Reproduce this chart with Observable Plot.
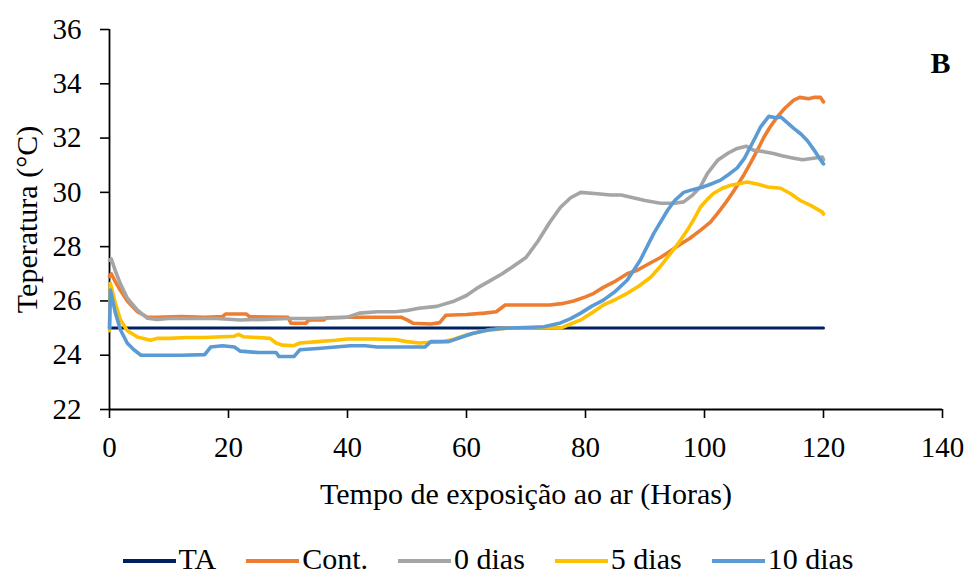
<!DOCTYPE html>
<html>
<head>
<meta charset="utf-8">
<script src="https://cdn.jsdelivr.net/npm/d3@7"></script>
<script src="https://cdn.jsdelivr.net/npm/@observablehq/plot@0.6"></script>
<style>
  body { margin: 0; background: #fff; font-family: "Liberation Serif", "Times New Roman", serif; }
  svg text { font-family: "Liberation Serif", "Times New Roman", serif !important; font-variant: normal !important; }
  #legend { display: flex; justify-content: center; align-items: center; height: 28px; line-height: 28px; margin-top: 5px; padding-left: 10px; font-size: 30px; color: #000; font-family: "Liberation Serif", "Times New Roman", serif; }
  .item { display: flex; align-items: center; margin: 0 15px; }
  .sw { width: 53px; height: 3.5px; margin-right: 3px; position: relative; top: 2px; }
</style>
</head>
<body>
<div id="chart"></div>
<div id="legend"></div>
<script>
// Series: [hour, temperature °C]
const seriesNames = ["TA", "Cont.", "0 dias", "5 dias", "10 dias"];
const seriesColors = ["#002060", "#ED7D31", "#A5A5A5", "#FFC000", "#5B9BD5"];
const xTicks = [0, 20, 40, 60, 80, 100, 120, 140];
const yTicks = [22, 24, 26, 28, 30, 32, 34, 36];

const ta = [[0, 25], [120, 25]];

const cont = [[0,26.9],[0.3,27.0],[1,26.7],[1.8,26.4],[3,26.0],[4.7,25.6],[6.4,25.4],[8,25.4],[12,25.42],[16,25.4],[19,25.42],[19.5,25.52],[23,25.52],[23.5,25.42],[30,25.4],[30.5,25.18],[33,25.18],[33.5,25.3],[36,25.3],[36.5,25.38],[40,25.4],[45,25.4],[49,25.4],[50,25.3],[51,25.18],[54,25.15],[55.5,25.2],[56.5,25.47],[60,25.5],[63,25.55],[65,25.6],[66.5,25.85],[70,25.85],[74,25.85],[76,25.9],[78,26.0],[80,26.15],[81.4,26.28],[83,26.5],[84.8,26.7],[87,27.0],[88.7,27.13],[90.5,27.35],[92.6,27.6],[94,27.8],[96,28.1],[97.5,28.3],[99.3,28.6],[101,28.9],[102.2,29.23],[103.5,29.6],[105,30.08],[106.5,30.6],[107.7,31.07],[109,31.6],[110,32.04],[111,32.4],[112.3,32.8],[113.5,33.1],[115,33.4],[116,33.5],[117.5,33.45],[118.5,33.5],[119.5,33.5],[120,33.33]];

const dias0 = [[0,27.5],[0.3,27.55],[1,27.1],[1.8,26.65],[3,26.1],[4.7,25.66],[6.4,25.36],[8,25.32],[10,25.35],[14,25.35],[18,25.35],[22,25.3],[26,25.32],[30,25.35],[34,25.35],[38,25.38],[40,25.4],[42,25.55],[45,25.6],[48,25.6],[50,25.65],[52,25.73],[55,25.8],[58,26.0],[60,26.2],[62,26.5],[64,26.75],[66,27.0],[68,27.3],[70,27.6],[72,28.2],[74,28.9],[75.8,29.45],[77.5,29.8],[79.2,30.0],[82,29.95],[84.2,29.9],[86,29.9],[88,29.8],[90,29.7],[92.6,29.6],[95,29.6],[96.5,29.65],[98,29.9],[99.3,30.2],[100.5,30.7],[102.2,31.18],[104,31.45],[105.5,31.62],[107,31.7],[108.3,31.55],[110,31.5],[111.6,31.43],[113,31.35],[115,31.26],[116.5,31.2],[118,31.25],[119.8,31.3],[120,31.2]];

const dias5 = [[0,24.9],[0.15,26.65],[1,25.9],[1.85,25.3],[3,24.9],[4.7,24.67],[6.9,24.55],[8,24.62],[10,24.62],[13,24.65],[16,24.65],[19,24.68],[21,24.7],[21.7,24.77],[22.5,24.68],[25,24.65],[27,24.62],[28,24.45],[29,24.37],[31,24.35],[32,24.45],[35,24.5],[38,24.55],[40,24.6],[44,24.6],[48,24.58],[50,24.5],[52,24.45],[54,24.48],[56,24.5],[58,24.6],[60,24.75],[61,24.8],[63,24.9],[65,24.95],[67,25.0],[70,25.0],[73,25.02],[75.8,25.0],[77.5,25.15],[79.2,25.3],[81,25.55],[83,25.85],[85,26.05],[87,26.28],[89,26.55],[91,26.88],[92.5,27.25],[94.3,27.75],[95.7,28.15],[97.1,28.6],[98.2,29.0],[99.3,29.45],[100.5,29.75],[101.5,29.96],[103,30.15],[104.4,30.26],[106,30.33],[107.2,30.38],[109,30.3],[110.6,30.2],[112.8,30.15],[114.5,29.95],[116.1,29.7],[118,29.5],[119.8,29.27],[120,29.2]];

const dias10 = [[0,25.0],[0.15,26.4],[1,25.55],[1.85,24.93],[3,24.44],[4.1,24.2],[5.3,24.0],[8,24.0],[12,24.0],[16,24.02],[17,24.3],[19,24.35],[21,24.3],[22,24.15],[25,24.1],[28,24.1],[28.5,23.95],[31,23.95],[32,24.2],[35,24.25],[38,24.3],[40.5,24.35],[43,24.35],[45,24.3],[50,24.3],[53,24.3],[54,24.5],[57,24.5],[59,24.65],[61,24.8],[64,24.95],[67,25.0],[70,25.02],[73,25.05],[75.8,25.19],[77.5,25.35],[79.2,25.55],[81,25.8],[83,26.03],[85,26.35],[87,26.76],[89.2,27.5],[91.5,28.5],[93.8,29.34],[95,29.7],[96.5,30.0],[98,30.1],[99.8,30.2],[101,30.3],[102.7,30.45],[104,30.65],[105.5,30.9],[106.7,31.25],[107.7,31.67],[108.6,32.05],[109.4,32.4],[110.8,32.8],[112,32.75],[112.8,32.78],[114,32.55],[115,32.36],[116.2,32.15],[117.3,31.9],[118.6,31.5],[119.8,31.1],[120,31.05]];

const allSeries = [ta, cont, dias0, dias5, dias10];
const table = allSeries.flatMap((s, i) => s.map(([h, t]) => ({h, t, s: seriesNames[i]})));

const chart = Plot.plot({
  width: 966,
  height: 540,
  marginLeft: 109,
  marginRight: 24,
  marginTop: 29,
  marginBottom: 131,
  style: { fontFamily: "'Liberation Serif', 'Times New Roman', serif", fontSize: "29px", color: "#000", background: "#fff" },
  x: { domain: [0, 140] },
  y: { domain: [22, 36] },
  color: { domain: seriesNames, range: seriesColors },
  marks: [
    Plot.axisX({ ticks: xTicks, tickSize: 9, tickPadding: 18, fontSize: 29, stroke: "#000", strokeWidth: 1.6,
      label: "Tempo de exposição ao ar (Horas)", labelAnchor: "center", labelArrow: "none", labelOffset: 94 }),
    Plot.axisY({ ticks: yTicks, tickSize: 9, tickPadding: 19, fontSize: 29, stroke: "#000", strokeWidth: 1.6,
      label: "Teperatura (°C)", labelAnchor: "center", labelArrow: "none", labelOffset: 94 }),
    Plot.ruleY([22], { stroke: "#000", strokeWidth: 1.8 }),
    Plot.ruleX([0], { stroke: "#000", strokeWidth: 1.8 }),
    ...seriesNames.map((name, i) =>
      Plot.line(table.filter(d => d.s === name), {
        x: "h", y: "t", stroke: seriesColors[i], strokeWidth: i === 0 ? 3 : 3.6,
        strokeLinejoin: "round", strokeLinecap: "round"
      })
    ),
    Plot.text(["B"], { frameAnchor: "top-right", text: d => d, textAnchor: "middle", lineAnchor: "middle",
      dx: -2, dy: 34, fontSize: 30, fontWeight: "bold" })
  ]
});
chart.querySelectorAll("g[aria-label='x-axis label'] text, g[aria-label='y-axis label'] text").forEach(t => t.setAttribute("font-size", "30"));
document.getElementById("chart").appendChild(chart);

const legend = document.getElementById("legend");
seriesNames.forEach((n, i) => {
  const it = document.createElement("div");
  it.className = "item";
  const sw = document.createElement("span");
  sw.className = "sw";
  sw.style.background = seriesColors[i];
  const tx = document.createElement("span");
  tx.textContent = n;
  it.appendChild(sw);
  it.appendChild(tx);
  legend.appendChild(it);
});
</script>
</body>
</html>
